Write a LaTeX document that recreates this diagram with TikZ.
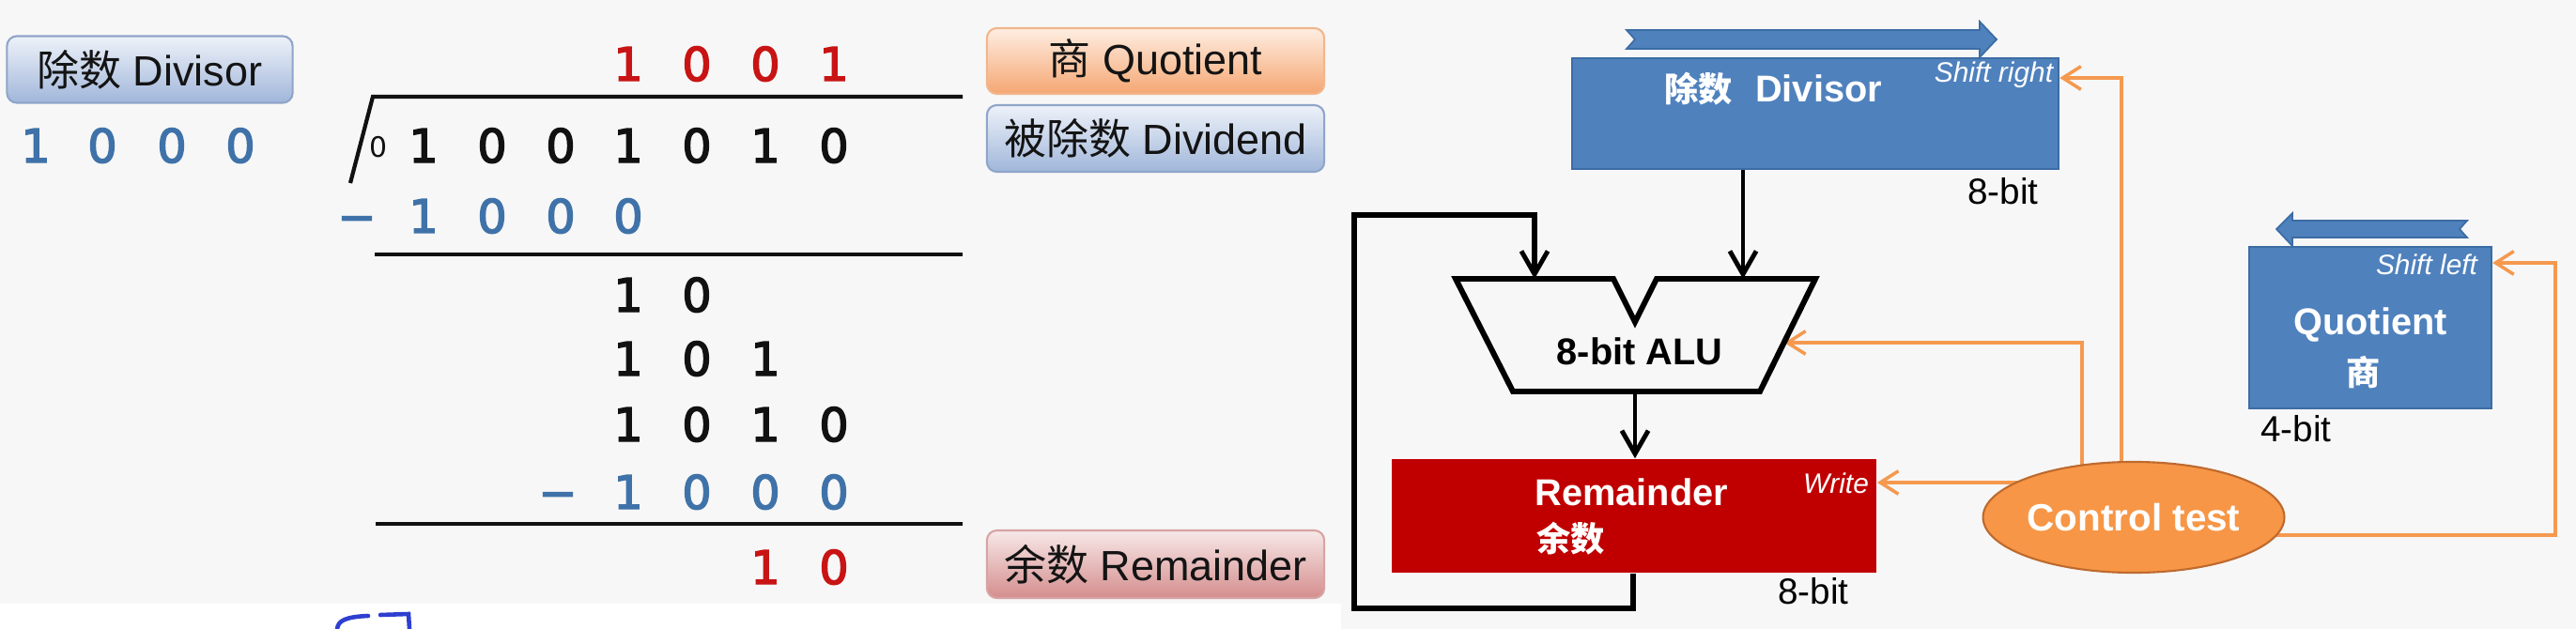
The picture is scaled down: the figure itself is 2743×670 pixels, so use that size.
\documentclass[tikz,border=0pt]{standalone}
\usepackage{fontspec}
\setmainfont{Liberation Sans}
\newfontfamily\cjk{Noto Sans CJK SC}
\newfontfamily\dv{DejaVu Sans}[FakeBold=3]
\newfontfamily\dvs{DejaVu Sans}
\usetikzlibrary{arrows.meta,shapes.geometric}
\pgfdeclarelayer{bgl}
\pgfsetlayers{bgl,main}
\definecolor{bgc}{HTML}{F7F7F7}
\definecolor{dblue}{HTML}{3F72A8}
\definecolor{dred}{HTML}{C81414}
\definecolor{dblack}{HTML}{111111}
\definecolor{btnbt}{HTML}{EEF2F9}
\definecolor{btnbb}{HTML}{A0B6DA}
\definecolor{btnbd}{HTML}{8FA5C9}
\definecolor{btnot}{HTML}{FEEEE2}
\definecolor{btnob}{HTML}{F5A672}
\definecolor{btnod}{HTML}{F1B68C}
\definecolor{btnpt}{HTML}{F8E8E8}
\definecolor{btnpb}{HTML}{D48D8D}
\definecolor{btnpd}{HTML}{D7A3A3}
\definecolor{boxblue}{HTML}{4F81BD}
\definecolor{boxblued}{HTML}{3C6CA4}
\definecolor{remred}{HTML}{C00000}
\definecolor{ctlor}{HTML}{F79646}
\definecolor{ctlord}{HTML}{BE6A2E}
\definecolor{orline}{HTML}{F5994F}
\definecolor{glyphblue}{HTML}{2E3FD0}
\newcommand\fsz[1]{\fontsize{#1pt}{#1pt}\selectfont}
\begin{document}
\begin{tikzpicture}[x=0.01cm,y=-0.01cm,
  digit/.style={anchor=base,inner sep=0pt,font=\dv\fsz{14}},
  dk/.style={digit,text=dblack},
  db/.style={digit,text=dblue},
  dr/.style={digit,text=dred},
  bar/.style={line width=1.2pt,draw=dblack},
  btn/.style={rounded corners=3pt,draw,line width=0.6pt,inner sep=0pt,font=\fsz{12.8},text=black!92},
  rectbox/.style={inner sep=0pt},
  wlab/.style={text=white,inner sep=0pt,font=\bfseries\fsz{11.3}},
  wlabc/.style={text=white,inner sep=0pt,font=\cjk\bfseries\fsz{10.3}},
  ital/.style={text=white,inner sep=0pt,font=\itshape\fsz{8.5}},
  bitlab/.style={text=black,inner sep=0pt,font=\fsz{11}},
  blkarrow/.style={draw=black,line width=1.4pt,-{Straight Barb[length=7pt,width=8pt,line width=1.4pt]}},
  looparrow/.style={draw=black,line width=1.7pt,-{Straight Barb[length=7pt,width=8pt,line width=1.4pt]}},
  orarrow/.style={draw=orline,line width=1pt,-{Straight Barb[length=5.5pt,width=7pt,line width=1pt]}},
  aluline/.style={draw=black,line width=1.7pt,line join=miter}
]
\useasboundingbox (0,0) rectangle (2743,670);
\begin{pgfonlayer}{bgl}
\fill[bgc] (0,0) rectangle (2743,670);
\fill[white] (0,643) rectangle (1428,670);
\end{pgfonlayer}
% partial blue glyph at bottom
\draw[glyphblue,line width=1.3pt,line cap=round] (359,670) .. controls (360,661) and (368,657) .. (392,656);
\draw[glyphblue,line width=1.3pt,line cap=round] (405,655) -- (435,654) -- (436,670);

% ===== Left: long division =====
\node[btn,top color=btnbt,bottom color=btnbb,draw=btnbd,minimum width=3.04cm,minimum height=0.71cm] (bdiv) at (159.5,74) {{\cjk 除数} Divisor};
\node[btn,top color=btnot,bottom color=btnob,draw=btnod,minimum width=3.59cm,minimum height=0.70cm] (bquo) at (1230.5,65) {{\cjk 商} Quotient};
\node[btn,top color=btnbt,bottom color=btnbb,draw=btnbd,minimum width=3.59cm,minimum height=0.71cm] (bdvd) at (1230.5,147.5) {{\cjk 被除数} Dividend};
\node[btn,top color=btnpt,bottom color=btnpb,draw=btnpd,minimum width=3.59cm,minimum height=0.72cm] (brem) at (1230.5,601) {{\cjk 余数} Remainder};

% divisor digits
\node[db] (v1) at (38,173) {1};
\node[db] (v2) at (109,173) {0};
\node[db] (v3) at (183,173) {0};
\node[db] (v4) at (256,173) {0};

% quotient
\node[dr] (q4) at (669,86) {1};
\node[dr] (q5) at (742,86) {0};
\node[dr] (q6) at (815,86) {0};
\node[dr] (q7) at (888,86) {1};

% division bars
\draw[bar] (373,195) -- (397,103) -- (1025,103);
\draw[bar] (399,271) -- (1025,271);
\draw[bar] (400,558) -- (1025,558);

% dividend
\node[anchor=base,inner sep=0pt,font=\dvs\fsz{8.5},text=dblack] (z0) at (403,168) {0};
\node[dk] (a1) at (451,173) {1};
\node[dk] (a2) at (524,173) {0};
\node[dk] (a3) at (597,173) {0};
\node[dk] (a4) at (669,173) {1};
\node[dk] (a5) at (742,173) {0};
\node[dk] (a6) at (815,173) {1};
\node[dk] (a7) at (888,173) {0};

% first subtraction
\node[db] (m1) at (380,248) {−};
\node[db] (s1) at (451,248) {1};
\node[db] (s2) at (524,248) {0};
\node[db] (s3) at (597,248) {0};
\node[db] (s4) at (669,248) {0};

% partial rows
\node[dk] (r41) at (669,332) {1};
\node[dk] (r42) at (742,332) {0};
\node[dk] (r51) at (669,400) {1};
\node[dk] (r52) at (742,400) {0};
\node[dk] (r53) at (815,400) {1};
\node[dk] (r61) at (669,470) {1};
\node[dk] (r62) at (742,470) {0};
\node[dk] (r63) at (815,470) {1};
\node[dk] (r64) at (888,470) {0};
\node[db] (m2) at (594,542) {−};
\node[db] (r71) at (669,542) {1};
\node[db] (r72) at (742,542) {0};
\node[db] (r73) at (815,542) {0};
\node[db] (r74) at (888,542) {0};
\node[dr] (r81) at (815,622) {1};
\node[dr] (r82) at (888,622) {0};

% ===== Right: hardware =====
% shift-right arrow
\fill[boxblue,draw=boxblued,line width=0.5pt] (1732,32) -- (2108,32) -- (2108,23) -- (2126,42) -- (2108,61) -- (2108,52) -- (1732,52) -- (1741,42) -- cycle;
\node[rectbox,fill=boxblue,draw=boxblued,line width=0.6pt,minimum width=5.18cm,minimum height=1.18cm] (divr) at (1933,121) {};
\node[wlab] (divt) at (1888,95) {{\cjk\bfseries\fsz{10.3}除数}\hspace{7pt}Divisor};
\node[ital] (shr) at (2123,80) {Shift right};
\node[bitlab] (b1) at (2133,204) {8-bit};

% ALU
\draw[aluline] (1550,297) -- (1718,297) -- (1741,343) -- (1764,297) -- (1933,297) -- (1874,417) -- (1611,417) -- cycle;
\coordinate (aluin1) at (1634,297);
\coordinate (aluin2) at (1856,297);
\coordinate (aluout) at (1741,417);
\coordinate (aluctl) at (1900,365);
\node[inner sep=0pt,font=\bfseries\fsz{11.3},text=black] (alut) at (1746,374) {8-bit ALU};

% Remainder
\node[rectbox,fill=remred,minimum width=5.16cm,minimum height=1.21cm] (rem) at (1740,549.5) {};
\node[wlab,anchor=west] (remt) at (1634,524) {Remainder};
\node[wlabc,anchor=west] (remc) at (1636,574) {余数};
\node[ital] (wrt) at (1955,515) {Write};
\node[bitlab] (b2) at (1931,630) {8-bit};

% Quotient
\fill[boxblue,draw=boxblued,line width=0.5pt] (2627,235) -- (2441,235) -- (2441,227) -- (2424,244) -- (2441,262) -- (2441,253) -- (2627,253) -- (2619,244) -- cycle;
\node[rectbox,fill=boxblue,draw=boxblued,line width=0.6pt,minimum width=2.58cm,minimum height=1.72cm] (quo) at (2524,349) {};
\node[ital] (shl) at (2584,282) {Shift left};
\node[wlab] (quot) at (2524,346) {Quotient};
\node[wlabc] (quoc) at (2517,397) {商};
\node[bitlab] (b3) at (2445,457) {4-bit};

% Control
\node[ellipse,fill=ctlor,draw=ctlord,line width=0.6pt,minimum width=2.56cm,minimum height=1.18cm,inner sep=0pt,text=white,font=\bfseries\fsz{11.5}] (ctl) at (2272,551) {Control test};

% black connectors
\draw[blkarrow] (divr.south -| aluin2) -- (aluin2);
\draw[blkarrow] (aluout) -- (rem.north -| aluout);
\coordinate (lp1) at (1739,648);
\coordinate (lp2) at (1442,648);
\coordinate (lp3) at (1442,229);
\coordinate (lp4) at (1634,229);
\draw[looparrow,line join=miter] (rem.south -| lp1) -- (lp1) -- (lp2) -- (lp3) -- (lp4) -- (aluin1);

% orange connectors (behind the ellipse)
\coordinate (j1) at (2217,514);
\coordinate (j2) at (2217,365);
\coordinate (sr) at (2259,83);
\coordinate (sl1) at (2721,570);
\coordinate (sl2) at (2721,280);
\begin{pgfonlayer}{bgl}
\draw[orarrow] (ctl.center |- j1) -- (rem.east |- j1);
\draw[orarrow] (ctl.center -| j2) -- (j2) -- (aluctl);
\draw[orarrow] (ctl.center -| sr) -- (sr) -- (divr.east |- sr);
\draw[orarrow] (ctl.center |- sl1) -- (sl1) -- (sl2) -- (quo.east |- sl2);
\end{pgfonlayer}
\end{tikzpicture}
\end{document}
